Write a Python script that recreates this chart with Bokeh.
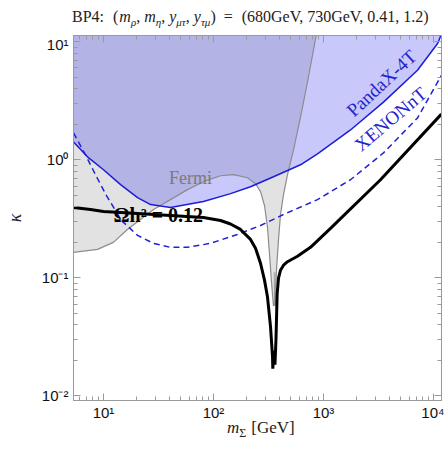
import math
from bokeh.plotting import figure
from bokeh.layouts import column
from bokeh.models import Label, LogAxis, FixedTicker, Range1d, Div
from bokeh.embed import file_html
from bokeh.resources import INLINE

# ---------------- data ----------------
# Fermi bound (grey line); excluded above
fermi_m = [5.34, 8.82, 12.3, 16.5, 21.7, 28.5, 40.6, 58.0, 81.1, 115.8, 152, 204,
           241, 267.5, 290.8, 309.7, 323, 336.7, 351, 362, 374, 390, 406.6, 433,
           470.8, 533.7, 618, 715, 794, 864]
fermi_k = [0.1646, 0.1745, 0.1999, 0.2572, 0.312, 0.379, 0.460, 0.559, 0.653, 0.733,
           0.748, 0.705, 0.628, 0.538, 0.410, 0.2674, 0.1584, 0.092, 0.0577, 0.0662,
           0.1184, 0.2118, 0.344, 0.507, 0.748, 1.214, 2.302, 4.54, 7.67, 11.75]
# narrow inner spike of the Fermi curve
spike_m = [356, 359, 363, 367, 371]
spike_k = [0.1117, 0.0577, 0.0886, 0.0577, 0.1117]

# PandaX-4T bound (solid blue); excluded above
pandax_m = [5.34, 7.15, 10.0, 14.3, 20.4, 26.8, 40.6, 81.1, 143, 217, 351, 618, 882,
            1760, 3510, 7150, 10900, 11800]
pandax_k = [1.418, 1.06, 0.824, 0.616, 0.478, 0.418, 0.394, 0.443, 0.517, 0.592,
            0.719, 0.908, 1.123, 1.79, 3.08, 5.73, 9.68, 11.6]

# XENONnT projection (dashed blue)
xenon_m = [5.34, 6.86, 8.64, 10.65, 14.58, 20.4, 28.5, 40.6, 58.0, 93.9, 165, 268,
           433, 882, 1760, 3510, 7150, 11800]
xenon_k = [1.689, 1.102, 0.719, 0.497, 0.306, 0.229, 0.196, 0.1814, 0.1814, 0.196,
           0.2334, 0.278, 0.344, 0.460, 0.678, 1.145, 2.26, 5.2]

# relic abundance Omega h^2 = 0.12 (thick black)
relic_m = [5.34, 7.62, 10.0, 20.4, 40.6, 81.1, 115.8, 142.7, 176, 217, 241, 267.5,
           290.8, 309.7, 330, 343.9, 346, 351, 356, 362, 370, 379, 390, 406.6, 433,
           470.8, 580, 762, 1158, 3298, 11800]
relic_k = [0.394, 0.379, 0.365, 0.351, 0.3375, 0.3245, 0.306, 0.286, 0.2572, 0.2118,
           0.178, 0.133, 0.0957, 0.0688, 0.0384, 0.0215, 0.01701, 0.0211, 0.0241,
           0.0184, 0.0305, 0.0729, 0.0994, 0.1161, 0.128, 0.137, 0.1523, 0.1814,
           0.2623, 0.678, 2.44]

x_major = [10, 100, 1000, 10000]
x_major_labels = ["10¹", "10²", "10³", "10⁴"]
y_major = [0.01, 0.1, 1, 10]
y_major_labels = ["10⁻²", "10⁻¹", "10⁰", "10¹"]

# ---------------- page geometry ----------------
W, H = 444, 458
TITLE_H = 35          # title strip
FL, FR = 73, 441      # frame left / right (page px)
FT, FB = 35, 402      # frame top / bottom (page px)
BOTTOM_B = 21         # space for x tick labels
XLAB_TOP = FB + BOTTOM_B
XLAB_H = H - XLAB_TOP

def X(px):
    return 10 ** (2 + (px - 213) / 110.0)

def Y(py):
    return 10 ** (-(py - 160) / 118.7)

XMIN, XMAX = X(FL), X(FR)
YMIN, YMAX = Y(FB), Y(FT)
TOP = 30.0

GRAY = "#9a9a9a"
SERIF = "Liberation Serif"
SANS = "Liberation Sans"

# ---------------- main plot ----------------
p = figure(width=W, height=XLAB_TOP - TITLE_H, x_axis_type="log", y_axis_type="log",
           x_range=Range1d(XMIN, XMAX), y_range=Range1d(YMIN, YMAX),
           output_backend="svg", toolbar_location=None,
           min_border_left=FL, min_border_right=W - FR, min_border_top=0,
           min_border_bottom=BOTTOM_B, margin=(0, 0, 0, 0))
p.grid.visible = False
p.outline_line_color = GRAY
p.background_fill_color = "white"
p.border_fill_color = "white"

# regions
p.varea(x=fermi_m, y1=fermi_k, y2=[TOP] * len(fermi_m), fill_color="#e2e2e2")
p.varea(x=pandax_m, y1=pandax_k, y2=[TOP] * len(pandax_m),
        fill_color=(56, 56, 237), fill_alpha=0.276)

# curves
p.line(fermi_m, fermi_k, line_color="#8c8c8c", line_width=1.2)
p.line(spike_m, spike_k, line_color="#9c9c9c", line_width=1.0)
p.line(xenon_m, xenon_k, line_color="#2020d8", line_width=1.5, line_dash="6 4")
p.line(pandax_m, pandax_k, line_color="#1c1cd8", line_width=1.5)
p.line(relic_m, relic_k, line_color="black", line_width=3)

# ticks
x_minor = [k * 10 ** e for e in range(0, 5) for k in range(2, 10) if XMIN <= k * 10 ** e <= XMAX]
y_minor = [k * 10.0 ** e for e in range(-3, 2) for k in range(2, 10) if YMIN <= k * 10.0 ** e <= YMAX]

def style_axis(ax):
    ax.axis_line_color = GRAY
    ax.major_tick_line_color = GRAY
    ax.minor_tick_line_color = GRAY
    ax.major_tick_in = 7
    ax.major_tick_out = 0
    ax.minor_tick_in = 4
    ax.minor_tick_out = 0

xa = p.xaxis[0]
xa.ticker = FixedTicker(ticks=x_major, minor_ticks=x_minor)
xa.major_label_overrides = dict(zip(x_major, x_major_labels))
xa.major_label_text_font = SANS
xa.major_label_text_font_size = "15px"
xa.major_label_text_color = "#111111"
xa.major_label_standoff = 3
style_axis(xa)

ya = p.yaxis[0]
ya.ticker = FixedTicker(ticks=y_major, minor_ticks=y_minor)
ya.major_label_overrides = dict(zip(y_major, y_major_labels))
ya.major_label_text_font = SANS
ya.major_label_text_font_size = "15px"
ya.major_label_text_color = "#111111"
ya.major_label_standoff = 5
ya.major_label_orientation = "horizontal"
ya.axis_label = "κ"
ya.axis_label_text_font = SERIF
ya.axis_label_text_font_style = "italic"
ya.axis_label_text_font_size = "18px"
ya.axis_label_text_color = "#222222"
ya.axis_label_standoff = 14
style_axis(ya)

top_ax = LogAxis(ticker=FixedTicker(ticks=x_major, minor_ticks=x_minor),
                 major_label_overrides={v: "" for v in x_major},
                 major_label_text_font_size="0px", major_label_standoff=0)
style_axis(top_ax)
p.add_layout(top_ax, "above")
right_ax = LogAxis(ticker=FixedTicker(ticks=y_major, minor_ticks=y_minor),
                   major_label_overrides={v: "" for v in y_major},
                   major_label_text_font_size="0px", major_label_standoff=0)
style_axis(right_ax)
p.add_layout(right_ax, "right")

def lab(fig, x, y, text, size, style="normal", color="#222222", font=SERIF,
        align="left", baseline="alphabetic", angle=0.0):
    fig.add_layout(Label(x=x, y=y, text=text, text_font=font,
                         text_font_size=f"{size}px", text_font_style=style,
                         text_color=color, text_align=align,
                         text_baseline=baseline, angle=angle))

# in-plot labels (data units)
lab(p, X(190), Y(178), "Fermi", 18, color="#7a7a7a", align="center")
lab(p, X(113), Y(215), "Ωh² = 0.12", 20, "bold", color="black")
lab(p, X(381), Y(83), "PandaX-4T", 19, color="#2424cc", align="center",
    baseline="middle", angle=math.radians(43))
lab(p, X(390), Y(119), "XENONnT", 19, color="#2424cc", align="center",
    baseline="middle", angle=math.radians(40))

# ---------------- title and x-axis label (HTML text) ----------------
SUB = ('<span style="font-size:11px;font-style:italic;position:relative;top:4px;">'
       '{}</span>')
title_html = (
    '<div style="font-family:\'Liberation Serif\',serif;font-size:16px;'
    'line-height:16px;white-space:nowrap;color:#222;padding-left:72px;'
    'padding-top:9px;margin:0;">'
    'BP4:<span style="margin-left:9px">(</span>'
    '<i style="margin-left:1px">m</i>' + SUB.format('ρ') + ', '
    '<i>m</i>' + SUB.format('η') + ', '
    '<i>y</i>' + SUB.format('μτ') + ', '
    '<i>y</i>' + SUB.format('τμ') + ')'
    '<span style="margin-left:8px">=</span>'
    '<span style="margin-left:9px">(680GeV, 730GeV, 0.41, 1.2)</span>'
    '</div>'
)
title_div = Div(text=title_html, width=W, height=TITLE_H, margin=(0, 0, 0, 0))

xlabel_html = (
    '<div style="font-family:\'Liberation Serif\',serif;font-size:17px;'
    'line-height:17px;white-space:nowrap;color:#222;padding-left:227px;'
    'position:relative;top:-4px;margin:0;">'
    '<i>m</i><span style="font-size:12px;position:relative;top:4px;">Σ</span>'
    '<span style="margin-left:5px">[GeV]</span>'
    '</div>'
)
xlabel_div = Div(text=xlabel_html, width=W, height=XLAB_H, margin=(0, 0, 0, 0))

layout = column(title_div, p, xlabel_div, spacing=0)
open("out.html", "w").write(file_html(layout, INLINE))
